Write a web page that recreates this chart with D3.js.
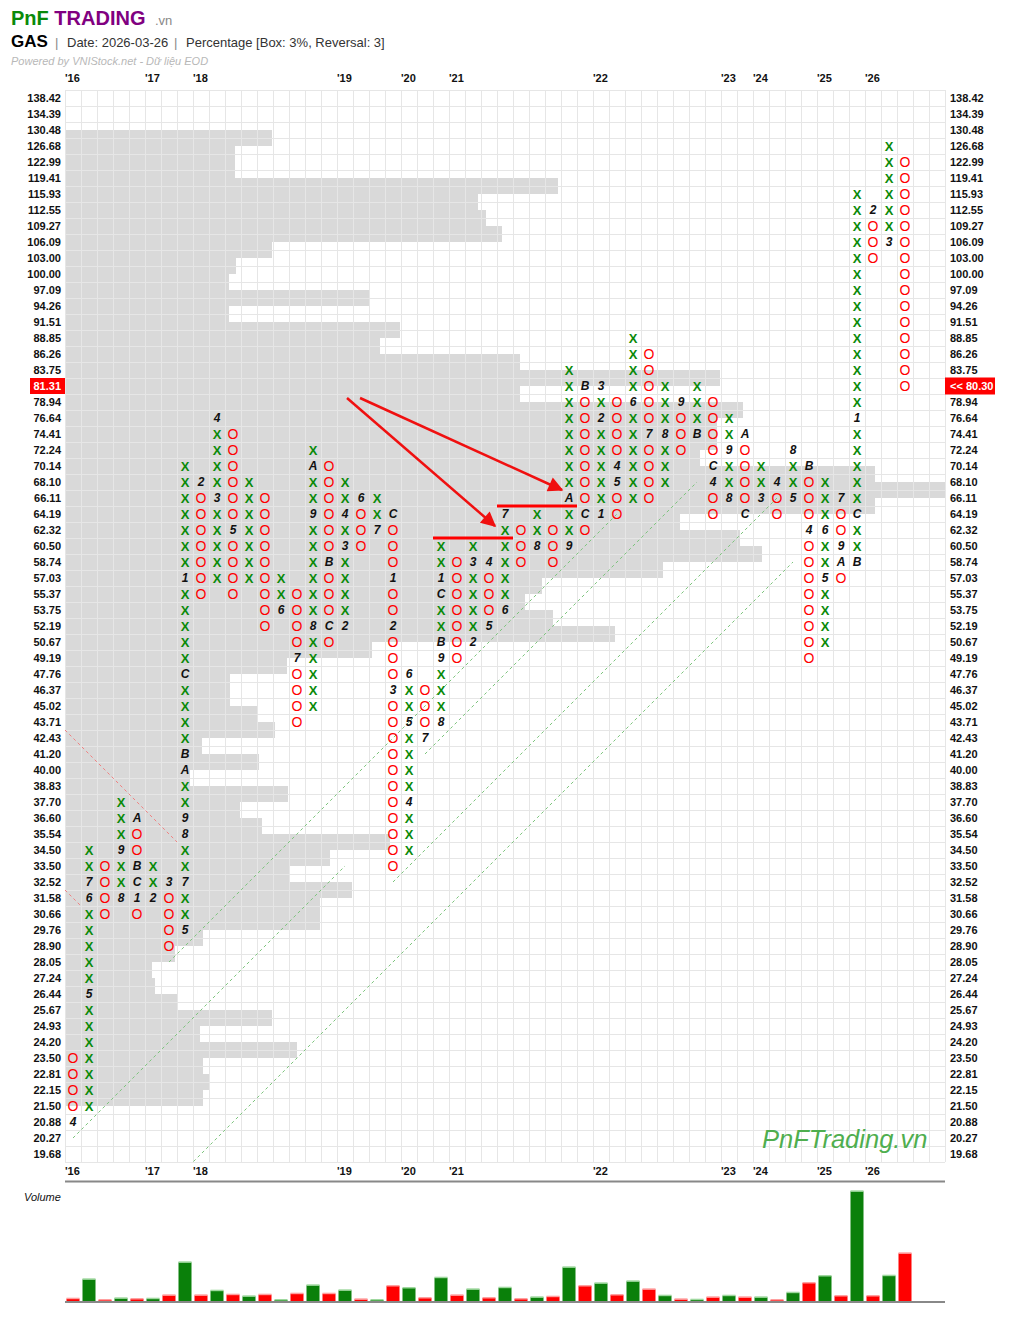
<!DOCTYPE html>
<html><head><meta charset="utf-8">
<script src="https://cdn.jsdelivr.net/npm/d3@7"></script>
<style>body{margin:0;background:#fff}svg{display:block;font-family:Arial,"Liberation Sans",sans-serif}</style>
</head><body><svg id="c" width="1010" height="1322"></svg>
<script>
// ---------- DATA ----------
const levels = [138.42,134.39,130.48,126.68,122.99,119.41,115.93,112.55,109.27,106.09,103.00,100.00,97.09,94.26,91.51,88.85,86.26,83.75,81.31,78.94,76.64,74.41,72.24,70.14,68.10,66.11,64.19,62.32,60.50,58.74,57.03,55.37,53.75,52.19,50.67,49.19,47.76,46.37,45.02,43.71,42.43,41.20,40.00,38.83,37.70,36.60,35.54,34.50,33.50,32.52,31.58,30.66,29.76,28.90,28.05,27.24,26.44,25.67,24.93,24.20,23.50,22.81,22.15,21.50,20.88,20.27,19.68];
const colType = ["O","X","O","X","O","X","O","X","O","X","O","X","O","X","O","X","O","X","O","X","O","X","O","X","O","X","O","X","O","X","O","X","O","X","O","X","O","X","O","X","O","X","O","X","O","X","O","X","O","X","O","X","O"];
const colHigh = [23.50,34.50,33.50,37.70,36.60,33.50,32.52,70.14,68.10,76.64,74.41,68.10,66.11,57.03,55.37,72.24,70.14,68.10,66.11,66.11,64.19,47.76,46.37,60.50,58.74,60.50,58.74,64.19,62.32,64.19,62.32,83.75,81.31,81.31,78.94,88.85,86.26,81.31,78.94,81.31,78.94,76.64,74.41,70.14,68.10,72.24,70.14,68.10,66.11,115.93,112.55,126.68,122.99];
const colLow  = [20.88,21.50,30.66,31.58,30.66,31.58,28.90,29.76,55.37,57.03,55.37,57.03,52.19,53.75,43.71,45.02,50.67,52.19,60.50,62.32,33.50,34.50,42.43,43.71,49.19,50.67,52.19,53.75,58.74,60.50,58.74,60.50,62.32,64.19,64.19,66.11,66.11,68.10,72.24,74.41,64.19,66.11,64.19,66.11,64.19,66.11,49.19,50.67,57.03,58.74,103.00,106.09,81.31];
const monthMarks = [
 [0,20.88,"4"],[1,26.44,"5"],[1,31.58,"6"],[1,32.52,"7"],[3,31.58,"8"],[3,34.50,"9"],
 [4,36.60,"A"],[4,33.50,"B"],[4,32.52,"C"],[4,31.58,"1"],[5,31.58,"2"],[6,32.52,"3"],
 [7,29.76,"5"],[7,32.52,"7"],[7,35.54,"8"],[7,36.60,"9"],[7,40.00,"A"],[7,41.20,"B"],[7,47.76,"C"],[7,57.03,"1"],
 [8,68.10,"2"],[9,66.11,"3"],[9,76.64,"4"],[10,62.32,"5"],[13,53.75,"6"],[14,49.19,"7"],
 [15,52.19,"8"],[15,64.19,"9"],[15,70.14,"A"],[16,58.74,"B"],[16,52.19,"C"],
 [17,52.19,"2"],[17,60.50,"3"],[17,64.19,"4"],[18,66.11,"6"],[19,62.32,"7"],
 [20,64.19,"C"],[20,57.03,"1"],[20,52.19,"2"],[20,46.37,"3"],
 [21,37.70,"4"],[21,43.71,"5"],[21,47.76,"6"],[22,42.43,"7"],
 [23,43.71,"8"],[23,49.19,"9"],[23,50.67,"B"],[23,55.37,"C"],[23,57.03,"1"],
 [25,50.67,"2"],[25,58.74,"3"],[26,58.74,"4"],[26,52.19,"5"],[27,53.75,"6"],[27,64.19,"7"],
 [29,60.50,"8"],[31,60.50,"9"],[31,66.11,"A"],[32,81.31,"B"],[32,64.19,"C"],
 [33,64.19,"1"],[33,76.64,"2"],[33,81.31,"3"],[34,70.14,"4"],[34,68.10,"5"],
 [35,78.94,"6"],[36,74.41,"7"],[37,74.41,"8"],[38,78.94,"9"],[39,74.41,"B"],
 [40,70.14,"C"],[40,68.10,"4"],[41,66.11,"8"],[41,72.24,"9"],[42,74.41,"A"],[42,64.19,"C"],
 [43,66.11,"3"],[44,68.10,"4"],[45,66.11,"5"],[45,72.24,"8"],[46,70.14,"B"],[46,62.32,"4"],
 [47,57.03,"5"],[47,62.32,"6"],[48,66.11,"7"],[48,60.50,"9"],[48,58.74,"A"],
 [49,58.74,"B"],[49,64.19,"C"],[49,76.64,"1"],[50,112.55,"2"],[51,106.09,"3"]
];
// volume-at-price profile: one band between consecutive levels (top->bottom)
const priceProfile = [0,0,207,170,170,493,413,421,437,207,171,164,305,164,335,315,455,655,455,678,652,652,635,810,880,810,615,675,697,598,477,460,488,550,307,222,165,165,192,210,137,194,125,223,175,197,325,265,225,287,255,255,138,110,87,90,112,207,135,232,138,145,138,0,0,0];
// column volume
const colVolume = [2.3,21.7,1,2.7,2,2.3,5.7,38.7,5.7,10.3,6.3,4.7,6.3,1,7.3,15.7,7.3,10.7,1.7,1,15,13,3,23.3,5.7,11.7,3,13.3,2,3.7,4.3,33.7,15,17.7,6,19.7,11.7,5.3,1.7,1.3,3.7,5.3,3.7,3.7,1,8.3,18,25,5,109.7,5,25.3,47.7];
const yearLabels = ["'16","'17","'18","'19","'20","'21","'22","'23","'24","'25","'26"];
const yearCols = [0,5,8,17,21,24,33,41,43,47,50];
// trend lines in (column, level-index) units
const greenLines = [[0,65,17,48],[6,54,34,26],[7,67,45,29],[22,41,39,24],[20,49,44,25]];
const redDashLines = [[-0.5,39.5,6.5,46.5],[-0.5,49.5,0.5,50.5]];
const resistanceLines = [[23,27,60.50],[27,31,64.19]];
const arrows = [[17.125,18.75,26.375,26.75],[17.94,18.75,30.56,24.5]];
const lastClose = 80.30, lastLevel = 81.31;

// ---------- SCALES ----------
const svg = d3.select("#c");
const nCols = 55;
const x = d3.scaleBand().domain(d3.range(nCols)).range([65,945]);
const y = d3.scalePoint().domain(levels).range([98,1154]);
const bw = x.bandwidth(), step = y.step();
const cx = c => x(c) + bw/2;
const colLin = d3.scaleLinear().domain([0,nCols-1]).range([cx(0), cx(nCols-1)]);
const rowLin = d3.scaleLinear().domain([0,levels.length-1]).range([y(levels[0]), y(levels[levels.length-1])]);
const profX = d3.scaleLinear().domain([0,880]).range([65,945]);
const plotTop = y(levels[0]) - step/2, plotBot = y(levels[levels.length-1]) + step/2;

// ---------- HEADER ----------
const hdr = svg.append("text").attr("x",11).attr("y",25).attr("font-weight","bold").attr("font-size",20);
hdr.append("tspan").attr("fill","#0a8a0a").text("PnF");
hdr.append("tspan").attr("fill","#800080").text(" TRADING");
svg.append("text").attr("x",155).attr("y",25).attr("fill","#888").attr("font-size",13).text(".vn");
svg.append("text").attr("x",11).attr("y",47).attr("font-weight","bold").attr("font-size",17).attr("fill","#000").text("GAS");
const sub = svg.append("g").attr("font-size",13).attr("fill","#333");
sub.append("text").attr("x",55).attr("y",47).attr("fill","#888").text("|");
sub.append("text").attr("x",67).attr("y",47).text("Date: 2026-03-26");
sub.append("text").attr("x",174).attr("y",47).attr("fill","#888").text("|");
sub.append("text").attr("x",186).attr("y",47).text("Percentage [Box: 3%, Reversal: 3]");
svg.append("text").attr("x",11).attr("y",65).attr("font-size",11).attr("font-style","italic").attr("fill","#b8b8b8").text("Powered by VNIStock.net - Dữ liệu EOD");

// ---------- PROFILE ----------
svg.append("g").selectAll("rect").data(priceProfile).join("rect")
  .attr("x",65).attr("y",(d,i)=>y(levels[i]))
  .attr("width",d=>profX(d)-65).attr("height",step)
  .attr("fill","#d9d9d9");

// ---------- GRID ----------
const grid = svg.append("g").attr("stroke","#e6e6e6").attr("stroke-width",1);
d3.range(nCols+1).forEach(i=>{
  const gx = (i<nCols? x(i): x(nCols-1)+bw) + 0.5;
  grid.append("line").attr("x1",gx).attr("x2",gx).attr("y1",plotTop).attr("y2",plotBot);
});
d3.range(levels.length+1).forEach(i=>{
  const gy = plotTop + i*step + 0.5;
  grid.append("line").attr("x1",65).attr("x2",945).attr("y1",gy).attr("y2",gy);
});

// ---------- AXIS LABELS ----------
const hlg = svg.append("g");
const lab = svg.append("g").attr("font-size",11).attr("font-weight","bold").attr("fill","#111");
levels.forEach(v=>{
  const hl = v===lastLevel;
  if(hl){
    hlg.append("rect").attr("x",30).attr("y",y(v)-8).attr("width",35).attr("height",16).attr("fill","#f00");
    hlg.append("rect").attr("x",945).attr("y",y(v)-8.5).attr("width",50).attr("height",17).attr("fill","#f00");
  }
  lab.append("text").attr("x",61).attr("y",y(v)).attr("dy","0.35em").attr("text-anchor","end")
     .attr("fill",hl?"#fff":"#111").text(d3.format(".2f")(v));
  lab.append("text").attr("x",950).attr("y",y(v)).attr("dy","0.35em").attr("fill",hl?"#fff":"#111")
     .text(hl ? "<< "+d3.format(".2f")(lastClose) : d3.format(".2f")(v));
});
const yr = svg.append("g").attr("font-size",11).attr("font-weight","bold").attr("fill","#111");
yearLabels.forEach((t,i)=>{
  yr.append("text").attr("x",x(yearCols[i])).attr("y",82).text(t);
  yr.append("text").attr("x",x(yearCols[i])).attr("y",1175).text(t);
});

// ---------- TREND LINES ----------
svg.append("clipPath").attr("id","clip").append("rect").attr("x",65).attr("y",plotTop).attr("width",880).attr("height",plotBot-plotTop);
const tl = svg.append("g").attr("clip-path","url(#clip)");
greenLines.forEach(l=>tl.append("line").attr("x1",colLin(l[0])).attr("y1",rowLin(l[1])).attr("x2",colLin(l[2])).attr("y2",rowLin(l[3]))
  .attr("stroke","#7cc47c").attr("stroke-width",1).attr("stroke-dasharray","3,3"));
redDashLines.forEach(l=>tl.append("line").attr("x1",colLin(l[0])).attr("y1",rowLin(l[1])).attr("x2",colLin(l[2])).attr("y2",rowLin(l[3]))
  .attr("stroke","#f08080").attr("stroke-width",1).attr("stroke-dasharray","3,3"));

// ---------- X / O ----------
const cells = svg.append("g");
colType.forEach((t,c)=>{
  const hi = levels.indexOf(colHigh[c]), lo = levels.indexOf(colLow[c]);
  for(let i=hi;i<=lo;i++){
    const v = levels[i];
    const m = monthMarks.find(d=>d[0]===c && d[1]===v);
    const tx = cells.append("text").attr("x",cx(c)).attr("y",y(v)).attr("dy","0.36em").attr("text-anchor","middle");
    if(m){ tx.attr("font-size",12).attr("font-weight","bold").attr("font-style","italic").attr("fill","#111").text(m[2]); }
    else if(t==="X"){ tx.attr("font-size",13).attr("font-weight","bold").attr("fill","#0a8a0a").text("X"); }
    else { tx.attr("font-size",14).attr("fill","#f00").text("O"); }
  }
});

// ---------- RESISTANCE LINES ----------
resistanceLines.forEach(r=>{
  const yy = y(r[2]) - step/2;
  svg.append("line").attr("x1",x(r[0])).attr("x2",x(r[1])+bw).attr("y1",yy).attr("y2",yy).attr("stroke","#f00").attr("stroke-width",3);
});

// ---------- ARROWS ----------
const defs = svg.append("defs");
defs.append("marker").attr("id","ah").attr("viewBox","0 0 10 10").attr("refX",9).attr("refY",5)
  .attr("markerWidth",7).attr("markerHeight",6).attr("orient","auto").attr("markerUnits","strokeWidth")
  .append("path").attr("d","M0,0L10,5L0,10z").attr("fill","#f01010");
arrows.forEach(a=>svg.append("line").attr("x1",colLin(a[0])).attr("y1",rowLin(a[1])).attr("x2",colLin(a[2])).attr("y2",rowLin(a[3]))
  .attr("stroke","#f01010").attr("stroke-width",2.5).attr("marker-end","url(#ah)"));

// ---------- WATERMARK ----------
svg.append("text").attr("x",762).attr("y",1148).attr("font-size",25.5).attr("font-style","italic").attr("fill","#4fae4f").text("PnFTrading.vn");

// ---------- VOLUME ----------
svg.append("line").attr("x1",65).attr("x2",945).attr("y1",1181.5).attr("y2",1181.5).attr("stroke","#888").attr("stroke-width",2);
svg.append("text").attr("x",24).attr("y",1201).attr("font-size",11).attr("font-style","italic").attr("fill","#111").text("Volume");
const yv = d3.scaleLinear().domain([0,110]).range([1301,1191]);
const vb = svg.append("g");
colVolume.forEach((v,c)=>{
  const col = colType[c]==="X" ? "#0a800a" : "#f00";
  const lite = colType[c]==="X" ? "#9fd89f" : "#ffa0a0";
  vb.append("rect").attr("x",x(c)+1.5).attr("width",bw-3).attr("y",yv(v)).attr("height",yv(0)-yv(v)).attr("fill",col);
  vb.append("rect").attr("x",x(c)+1.5).attr("width",bw-3).attr("y",yv(v)-1).attr("height",1.5).attr("fill",lite);
});
svg.append("line").attr("x1",65).attr("x2",945).attr("y1",1302).attr("y2",1302).attr("stroke","#888").attr("stroke-width",2);
</script></body></html>
